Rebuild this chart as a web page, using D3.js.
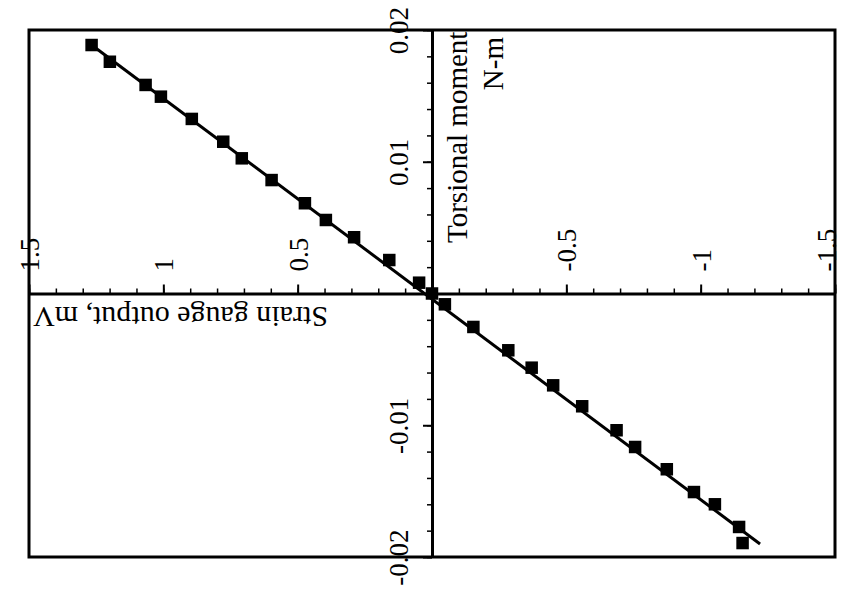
<!DOCTYPE html>
<html>
<head>
<meta charset="utf-8">
<script src="https://cdn.jsdelivr.net/npm/d3@7"></script>
<style>
  html, body { margin: 0; padding: 0; background: #fff; }
  svg { display: block; }
  text { font-family: "Liberation Serif", "Times New Roman", serif; fill: #000; }
</style>
</head>
<body>
<svg id="chart" width="843" height="597"></svg>
<script>
// Strain gauge output (mV) vs torsional moment (N-m)
const strainMV = [1.267, 1.199, 1.066, 1.009, 0.894, 0.777, 0.708, 0.597, 0.473, 0.395, 0.290, 0.159, 0.048, 0.0,
                  -0.048, -0.154, -0.284, -0.371, -0.451, -0.559, -0.687, -0.756, -0.874, -0.975, -1.053, -1.143, -1.156];
const momentNm = [0.01886, 0.01759, 0.01583, 0.01494, 0.01325, 0.01152, 0.01026, 0.00861, 0.00685, 0.00558, 0.00427, 0.00254, 0.00082, 0.0,
                  -0.00082, -0.00254, -0.00431, -0.00563, -0.00697, -0.00856, -0.01038, -0.01165, -0.01334, -0.01507, -0.0160, -0.01772, -0.01894];
// fitted line end points
const fitMV = [1.267, -1.221];
const fitNm = [0.01886, -0.01901];

const xTicks = [1.5, 1, 0.5, -0.5, -1, -1.5];
const xTickLabels = ["1.5", "1", "0.5", "-0.5", "-1", "-1.5"];
const yTicks = [0.02, 0.01, -0.01, -0.02];
const yTickLabels = ["0.02", "0.01", "-0.01", "-0.02"];
const xTitle = "Strain gauge output, mV";
const yTitle1 = "Torsional moment";
const yTitle2 = "N-m";

const svg = d3.select("#chart");
const L = 29, R = 835, T = 30, B = 557;

const x = d3.scaleLinear().domain([1.5, -1.5]).range([L, R]);
const y = d3.scaleLinear().domain([-0.02, 0.02]).range([B, T]);

// frame
svg.append("rect").attr("x", L).attr("y", T).attr("width", R - L).attr("height", B - T)
  .attr("fill", "none").attr("stroke", "#000").attr("stroke-width", 3);

const x0 = x(0), y0 = y(0);

// horizontal axis (strain gauge) through y=0, ticks upward
const xMinor = d3.range(-15, 16).map(d => d / 10);
svg.append("g").attr("transform", `translate(0,${y0})`)
  .call(d3.axisTop(x).tickValues(xMinor).tickSize(5).tickSizeOuter(0).tickFormat(""))
  .call(g => g.select(".domain").attr("stroke-width", 3))
  .call(g => g.selectAll(".tick line").attr("stroke-width", 1.5));
svg.append("g").attr("transform", `translate(0,${y0})`)
  .call(d3.axisTop(x).tickValues(xTicks).tickSize(9).tickSizeOuter(0)
        .tickFormat((d, i) => xTickLabels[i]))
  .call(g => g.select(".domain").remove())
  .call(g => g.selectAll(".tick line").attr("stroke-width", 2))
  .call(g => g.selectAll(".tick text")
      .attr("transform", "rotate(-90)")
      .attr("x", 22).attr("y", d => d === -1.5 ? -9 : 0).attr("dy", "0.35em")
      .attr("text-anchor", "start")
      .attr("font-size", 27)
      .attr("font-family", "Liberation Serif"));

// vertical axis (torsional moment) through x=0, ticks leftward
const yMinor = d3.range(-10, 11).map(d => d * 0.002);
svg.append("g").attr("transform", `translate(${x0},0)`)
  .call(d3.axisLeft(y).tickValues(yMinor).tickSize(5).tickSizeOuter(0).tickFormat(""))
  .call(g => g.select(".domain").attr("stroke-width", 3))
  .call(g => g.selectAll(".tick line").attr("stroke-width", 1.5));
svg.append("g").attr("transform", `translate(${x0},0)`)
  .call(d3.axisLeft(y).tickValues(yTicks).tickSize(9).tickSizeOuter(0)
        .tickFormat((d, i) => yTickLabels[i]))
  .call(g => g.select(".domain").remove())
  .call(g => g.selectAll(".tick line").attr("stroke-width", 2))
  .call(g => g.selectAll(".tick text")
      .attr("transform", "rotate(-90)")
      .attr("x", 0).attr("y", -33).attr("dy", "0.35em")
      .attr("text-anchor", "middle")
      .attr("font-size", 27)
      .attr("font-family", "Liberation Serif"));

// fitted line
const fit = fitMV.map((d, i) => [d, fitNm[i]]);
svg.append("path").datum(fit)
  .attr("d", d3.line().x(d => x(d[0])).y(d => y(d[1])))
  .attr("fill", "none").attr("stroke", "#000").attr("stroke-width", 3);

// data markers
const pts = strainMV.map((d, i) => [d, momentNm[i]]);
const s = 12.5;
svg.append("g").selectAll("rect").data(pts).join("rect")
  .attr("x", d => x(d[0]) - s / 2).attr("y", d => y(d[1]) - s / 2)
  .attr("width", s).attr("height", s).attr("fill", "#000");

// axis titles
svg.append("text").text(xTitle)
  .attr("transform", "translate(328,307) rotate(180)")
  .attr("text-anchor", "start").attr("font-size", 30);
svg.append("text").text(yTitle1)
  .attr("transform", "translate(467,243) rotate(-90)")
  .attr("text-anchor", "start").attr("font-size", 29);
svg.append("text").text(yTitle2)
  .attr("transform", "translate(503,37) rotate(-90)")
  .attr("text-anchor", "end").attr("font-size", 29);
</script>
</body>
</html>
